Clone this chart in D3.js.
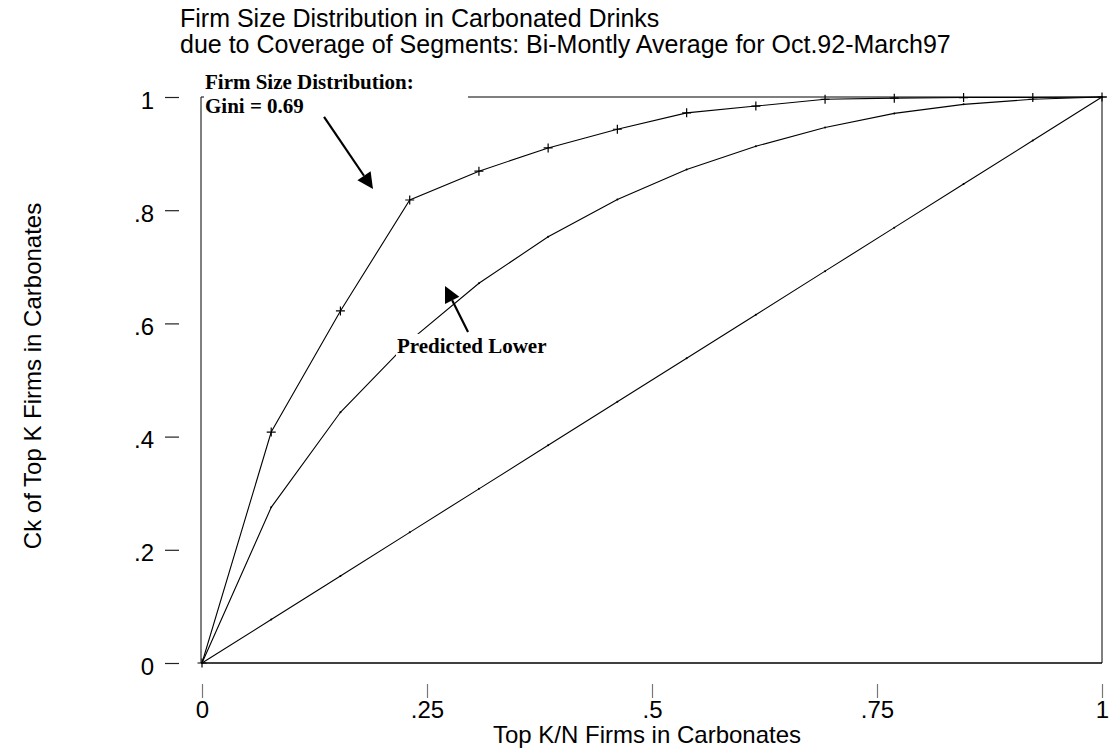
<!DOCTYPE html>
<html><head><meta charset="utf-8">
<script src="https://cdn.jsdelivr.net/npm/d3@7"></script>
<style>body{margin:0;background:#fff;overflow:hidden}</style>
</head><body><svg id="c" width="1115" height="753"></svg>
<script>
// ---- data ----
const kOverN = [0, 0.0769, 0.1538, 0.2308, 0.3077, 0.3846, 0.4615, 0.5385, 0.6154, 0.6923, 0.7692, 0.8462, 0.9231, 1];
const observedShare = [0, 0.408, 0.622, 0.818, 0.869, 0.910, 0.943, 0.972, 0.984, 0.996, 0.998, 0.999, 0.999, 1];
const predictedLower = [0, 0.275, 0.443, 0.569, 0.671, 0.753, 0.819, 0.872, 0.913, 0.946, 0.971, 0.987, 0.996, 1];
const equalShare = [0, 0.0769, 0.1538, 0.2308, 0.3077, 0.3846, 0.4615, 0.5385, 0.6154, 0.6923, 0.7692, 0.8462, 0.9231, 1];
const xTicks = [0, 0.25, 0.5, 0.75, 1];
const xTickLabels = ["0", ".25", ".5", ".75", "1"];
const yTicks = [0, 0.2, 0.4, 0.6, 0.8, 1];
const yTickLabels = ["0", ".2", ".4", ".6", ".8", "1"];
const titleLines = ["Firm Size Distribution in Carbonated Drinks",
  "due to Coverage of Segments: Bi-Montly Average for Oct.92-March97"];
const xTitle = "Top K/N Firms in Carbonates";
const yTitle = "Ck of Top K Firms in Carbonates";
const note1 = ["Firm Size Distribution:", "Gini = 0.69"];
const note2 = "Predicted Lower";
// annotation anchor points (data units)
const arrow1 = {from: [0.1356, 0.9647], to: [0.19, 0.8375]};
const arrow2 = {from: [0.2956, 0.5848], to: [0.27, 0.666]};
const note1Pos = [0.0033, 1.0141];
const note2Pos = [0.2167, 0.5478];

// ---- chart ----
const svg = d3.select("#c");
const sans = "'Liberation Sans', Arial, sans-serif";
const serif = "'Liberation Serif', 'Times New Roman', serif";
const x = d3.scaleLinear().domain([0, 1]).range([202, 1102]);
const y = d3.scaleLinear().domain([0, 1]).range([663, 97]);

// titles
svg.append("g").selectAll("text").data(titleLines).join("text")
  .attr("x", 180).attr("y", (d, i) => 27 + i * 26)
  .attr("font-family", sans).attr("font-size", 25).attr("fill", "#000").text(d => d);

// frame
svg.append("line").attr("x1", x(0) - 1).attr("x2", x(0) - 1).attr("y1", y(1)).attr("y2", y(0))
  .attr("stroke", "#808080").attr("stroke-width", 2);
svg.append("line").attr("x1", x(1)).attr("x2", x(1)).attr("y1", y(1)).attr("y2", y(0))
  .attr("stroke", "#808080").attr("stroke-width", 2);
svg.append("line").attr("x1", x(0)).attr("x2", x(1)).attr("y1", y(0)).attr("y2", y(0))
  .attr("stroke", "#000").attr("stroke-width", 1.5);
svg.append("line").attr("x1", x(0) - 1).attr("x2", x(1) + 5).attr("y1", y(1)).attr("y2", y(1))
  .attr("stroke", "#000").attr("stroke-width", 1.2);

// axes
const yAxis = d3.axisLeft(y).tickValues(yTicks).tickFormat((d, i) => yTickLabels[i])
  .tickSize(14).tickPadding(11);
const gy = svg.append("g").attr("transform", "translate(179,0)").call(yAxis);
gy.select(".domain").remove();
gy.selectAll(".tick line").attr("stroke", "#222").attr("stroke-width", 1.2);
gy.selectAll(".tick text").attr("font-family", sans).attr("font-size", 24).attr("fill", "#000").attr("dy", "0.46em");

const xAxis = d3.axisBottom(x).tickValues(xTicks).tickFormat((d, i) => xTickLabels[i])
  .tickSize(14).tickPadding(3);
const gx = svg.append("g").attr("transform", "translate(0,684)").call(xAxis);
gx.select(".domain").remove();
gx.selectAll(".tick line").attr("stroke", "#777").attr("stroke-width", 1.2);
gx.selectAll(".tick text").attr("font-family", sans).attr("font-size", 24).attr("fill", "#000");

// axis titles
svg.append("text").attr("x", 647).attr("y", 743).attr("text-anchor", "middle")
  .attr("font-family", sans).attr("font-size", 24).text(xTitle);
svg.append("text").attr("transform", "translate(41,376) rotate(-90)").attr("text-anchor", "middle")
  .attr("font-family", sans).attr("font-size", 24).text(yTitle);

// series lines
const line = d3.line().x(d => x(d[0])).y(d => y(d[1]));
const series = [observedShare, predictedLower, equalShare].map(s => kOverN.map((v, i) => [v, s[i]]));
svg.append("g").selectAll("path").data(series).join("path")
  .attr("d", line).attr("fill", "none").attr("stroke", "#000").attr("stroke-width", 1.1);

// markers
svg.append("g").selectAll("path").data(series[0]).join("path")
  .attr("d", d => `M${x(d[0]) - 4.5},${y(d[1])}h9M${x(d[0])},${y(d[1]) - 4.5}v9`)
  .attr("stroke", "#000").attr("stroke-width", 1.2);
svg.append("g").selectAll("circle").data(series[1].concat(series[2])).join("circle")
  .attr("cx", d => x(d[0])).attr("cy", d => y(d[1])).attr("r", 1).attr("fill", "#000");

// annotation 1 (white box hides part of top line)
const n1x = x(note1Pos[0]), n1y = y(note1Pos[1]);
svg.append("rect").attr("x", x(0) + 2).attr("y", n1y - 22).attr("width", 466 - x(0)).attr("height", 52).attr("fill", "#fff");
svg.append("g").selectAll("text").data(note1).join("text")
  .attr("x", n1x).attr("y", (d, i) => n1y + i * 24)
  .attr("font-family", serif).attr("font-weight", "bold").attr("font-size", 21).text(d => d);

// annotation 2
const t2 = svg.append("text").attr("x", x(note2Pos[0])).attr("y", y(note2Pos[1]))
  .attr("font-family", serif).attr("font-weight", "bold").attr("font-size", 21).text(note2);
const bb = t2.node().getBBox();
svg.insert("rect", () => t2.node()).attr("x", bb.x - 1).attr("y", bb.y).attr("width", bb.width + 2).attr("height", bb.height).attr("fill", "#fff");

// arrows
function arrow(a) {
  const x1 = x(a.from[0]), y1 = y(a.from[1]), x2 = x(a.to[0]), y2 = y(a.to[1]);
  const dx = x2 - x1, dy = y2 - y1, len = Math.hypot(dx, dy), ux = dx / len, uy = dy / len;
  const hl = 16, hw = 8;
  const bx = x2 - ux * hl, by = y2 - uy * hl;
  svg.append("line").attr("x1", x1).attr("y1", y1).attr("x2", bx).attr("y2", by)
    .attr("stroke", "#000").attr("stroke-width", 2.2);
  svg.append("path").attr("d", `M${x2},${y2}L${bx - uy * hw},${by + ux * hw}L${bx + uy * hw},${by - ux * hw}Z`)
    .attr("fill", "#000");
}
arrow(arrow1);
arrow(arrow2);
</script></body></html>
